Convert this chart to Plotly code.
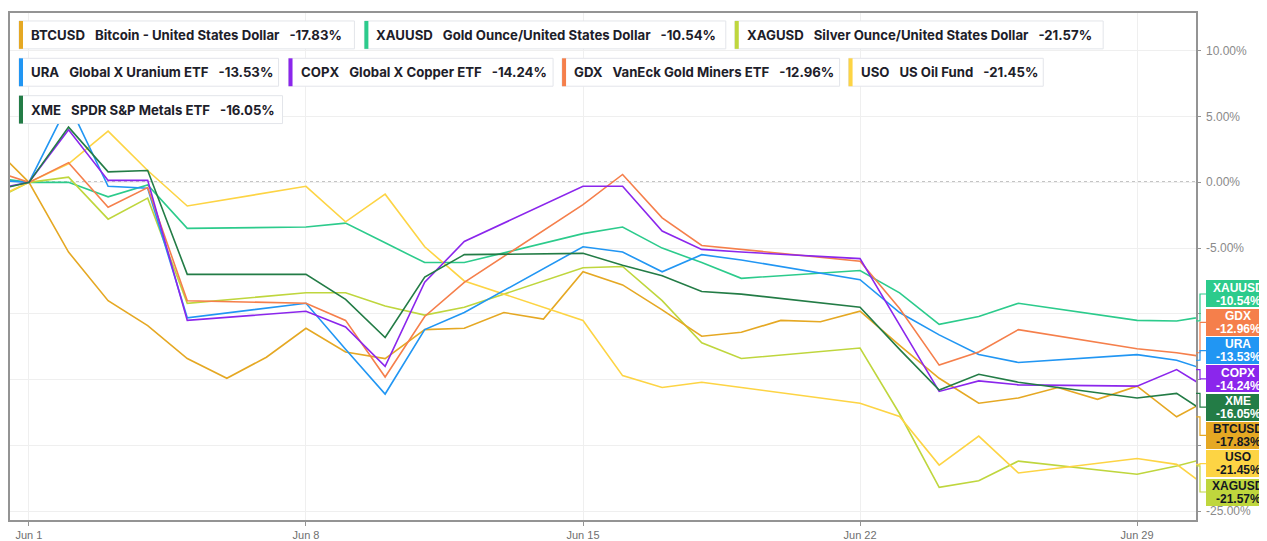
import plotly.graph_objects as go
import pandas as pd

# ---------------- data ----------------
dates = pd.date_range("2020-05-29", "2020-07-01", freq="D").strftime("%Y-%m-%d").tolist()
N = None

tickers = ["BTCUSD", "XAUUSD", "XAGUSD", "URA", "COPX", "GDX", "USO", "XME"]
names = ["Bitcoin - United States Dollar", "Gold Ounce/United States Dollar",
         "Silver Ounce/United States Dollar", "Global X Uranium ETF",
         "Global X Copper ETF", "VanEck Gold Miners ETF", "US Oil Fund",
         "SPDR S&P Metals ETF"]
colors = ["#E5A823", "#2CCB8C", "#BFD63D", "#2196F3", "#8B26EC", "#F57F4B", "#FDD444", "#237C46"]
label_text_colors = ["#131722", "#ffffff", "#131722", "#ffffff", "#ffffff", "#ffffff", "#131722", "#ffffff"]

#        May29 May30 May31 | Jun1 ... Jun30 | Jul1
btc = [N, N, 3.0,
       0.0, -5.3, -9.0, -10.9, -13.4, -14.9, -13.3, -11.1, -12.9, -13.4,
       -11.2, -11.1, -9.9, -10.4, -6.8, -7.8, -9.7, -11.7, -11.4, -10.5,
       -10.6, -9.8, -12.4, -14.9, -16.8, -16.4, -15.6, -16.5, -15.5, -17.83,
       -16.2]
xau = [1.2, N, N,
       0.0, 0.0, -1.1, -0.2, -3.5, N, N, -3.4, -3.1, -4.6,
       -6.1, -6.1, N, N, -3.9, -3.4, -5.0, -6.1, -7.3, N,
       N, -6.7, -8.4, -10.8, -10.2, -9.2, N, N, -10.5, -10.54,
       -10.06]
xag = [-4.5, N, N,
       0.0, 0.4, -2.8, -1.2, -9.2, N, N, -8.4, -8.4, -9.4,
       -10.1, -9.5, N, N, -6.5, -6.4, -9.0, -12.2, -13.4, N,
       N, -12.6, -17.6, -23.2, -22.7, -21.2, N, N, -22.2, -21.57,
       -20.8]
ura = [0.6, N, N,
       0.0, 6.0, -0.3, -0.45, -10.3, N, N, -9.2, -12.7, -16.1,
       -11.2, -9.9, N, N, -4.9, -5.3, -6.8, -5.5, -5.9, N,
       N, -7.4, -9.9, -11.6, -13.1, -13.7, N, N, -13.1, -13.53,
       -14.5]
copx = [-1.8, N, N,
        0.0, 4.0, 0.15, 0.15, -10.5, N, N, -9.8, -11.0, -14.0,
        -7.6, -4.5, N, N, -0.3, -0.3, -3.7, -5.1, -5.3, N,
        N, -5.8, -10.9, -15.9, -15.1, -15.4, N, N, -15.5, -14.24,
        -16.1]
gdx = [3.0, N, N,
       0.0, 1.5, -1.9, -0.4, -9.0, N, N, -9.2, -10.5, -14.8,
       -10.2, -7.6, N, N, -1.7, 0.6, -2.7, -4.8, -5.1, N,
       N, -6.0, -9.6, -13.9, -12.9, -11.2, N, N, -12.65, -12.96,
       -13.4]
uso = [-4.2, N, N,
       0.0, 1.4, 3.9, 0.9, -1.8, N, N, -0.3, -3.0, -0.9,
       -4.9, -7.5, N, N, -10.5, -14.7, -15.6, -15.2, -15.6, N,
       N, -16.8, -17.8, -21.5, -19.3, -22.1, N, N, -21.0, -21.45,
       -23.7]
xme = [-2.1, N, N,
       0.0, 4.2, 0.8, 0.9, -7.0, N, N, -7.0, -8.9, -11.8,
       -7.2, -5.5, N, N, -5.4, -6.3, -7.1, -8.3, -8.5, N,
       N, -9.5, -12.7, -15.8, -14.6, -15.2, N, N, -16.4, -16.05,
       -18.0]
series = [btc, xau, xag, ura, copx, gdx, uso, xme]

x_tick_dates = ["2020-06-01", "2020-06-08", "2020-06-15", "2020-06-22", "2020-06-29"]
x_tick_text = ["Jun 1", "Jun 8", "Jun 15", "Jun 22", "Jun 29"]
y_ticks = [-25, -20, -15, -10, -5, 0, 5, 10]
last_date = "2020-06-30"

# ---------------- layout geometry (page pixels; figure sits at an 8px page offset) ----------------
OFF = 8
W, H = 1259, 533
ML, MT = 0, 5
PW, PH = 1188, 509
MR, MB = W - ML - PW, H - MT - PH
Y_RANGE = [-25.68, 12.88]
X_RANGE = ["2020-05-31 12:30", "2020-06-30 11:45"]


def px(x):
    return (x - OFF - ML) / PW


def py(y):
    return (OFF + MT + PH - y) / PH


def vy(v):
    return (v - Y_RANGE[0]) / (Y_RANGE[1] - Y_RANGE[0])


fig = go.Figure()
draw_order = [1, 2, 0, 6, 3, 5, 4, 7]
for i in draw_order:
    fig.add_trace(go.Scatter(x=dates, y=series[i], mode="lines", connectgaps=True,
                             line=dict(color=colors[i], width=1.6),
                             name=tickers[i], showlegend=False, hoverinfo="skip"))

shapes = []
annotations = []

# zero line
shapes.append(dict(type="line", xref="paper", yref="y", x0=0, x1=1, y0=0, y1=0,
                   line=dict(color="#8a8a8a", width=1.5, dash="dot"), layer="below"))

# ---------------- y tick labels (right side) ----------------
for v in y_ticks:
    annotations.append(dict(xref="paper", yref="y", x=px(1204), y=v, xanchor="left",
                            yanchor="middle", text=f"{v:.2f}%", showarrow=False,
                            font=dict(family="Liberation Sans", size=12, color="#8a8a8a")))

# ---------------- top legend boxes ----------------
legend_rows = [[0, 1, 2], [3, 4, 5, 6], [7]]
legend_lefts = [[17, 363, 734], [17, 287, 561, 848], [17]]
legend_widths = [[336, 362, 369], [260, 265, 278, 195], [264]]
row_tops = [21, 58.5, 96]
BOX_H = 28
last_idx = dates.index(last_date)
for r, row in enumerate(legend_rows):
    top = row_tops[r]
    for k, i in enumerate(row):
        left = legend_lefts[r][k]
        w = legend_widths[r][k]
        shapes.append(dict(type="rect", xref="paper", yref="paper",
                           x0=px(left), x1=px(left + w), y0=py(top + BOX_H), y1=py(top),
                           fillcolor="white", line=dict(color="#e3e5ea", width=1), layer="above"))
        shapes.append(dict(type="rect", xref="paper", yref="paper",
                           x0=px(left), x1=px(left + 4), y0=py(top + BOX_H), y1=py(top),
                           fillcolor=colors[i], line=dict(width=0), layer="above"))
        val = series[i][last_idx]
        txt = (f"<b>{tickers[i]}</b>&nbsp;&nbsp;&nbsp;<b>{names[i]}</b>"
               f"&nbsp;&nbsp;&nbsp;<b>{val:.2f}%</b>")
        annotations.append(dict(xref="paper", yref="paper", x=px(left + 10), y=py(top + BOX_H / 2),
                                xanchor="left", yanchor="middle", text=txt, showarrow=False,
                                font=dict(family="Inter", size=13.2, color="#1d2029", weight=600)))

# ---------------- right value labels ----------------
finals = [s[last_idx] for s in series]
order = sorted(range(len(series)), key=lambda i: -finals[i])
pitch_px = 28.4
px_per_pct = PH / (Y_RANGE[1] - Y_RANGE[0])
mean_v = sum(finals) / len(finals)
LBL_L, LBL_W, ELBOW = 1206, 62, 1200
for rank, i in enumerate(order):
    center_v = mean_v + (len(order) / 2 - 0.5 - rank) * pitch_px / px_per_pct
    cy = vy(center_v)
    v_y = vy(finals[i])
    shapes.append(dict(type="path", xref="paper", yref="paper",
                       path=(f"M {px(1196)},{v_y} L {px(ELBOW)},{v_y} "
                             f"L {px(ELBOW)},{cy} L {px(LBL_L)},{cy}"),
                       line=dict(color=colors[i], width=1.2), layer="above"))
    # coloured box (an annotation so it sits above the y tick labels)
    annotations.append(dict(xref="paper", yref="paper", x=px(LBL_L), y=cy, xanchor="left",
                            yanchor="middle", text="&nbsp;", showarrow=False,
                            width=LBL_W, height=27, borderpad=0, borderwidth=0,
                            bgcolor=colors[i], font=dict(size=10)))
    for line_txt, dy in ((tickers[i], 6.3), (f"{finals[i]:.2f}%", -6.7)):
        annotations.append(dict(xref="paper", yref="paper", x=px(1238.5),
                                y=cy + dy / PH, xanchor="center", yanchor="middle",
                                text=f"<b>{line_txt}</b>", showarrow=False,
                                font=dict(family="Liberation Sans", size=12,
                                          color=label_text_colors[i])))

# cropped watermark text at the very top
annotations.append(dict(xref="paper", yref="paper", x=px(171), y=py(11), xanchor="center",
                        yanchor="bottom", text="<b>ASESORIA FINANCIERA</b>", showarrow=False,
                        font=dict(family="Liberation Sans", size=8, color="#1f2d3a")))

fig.update_layout(
    width=W, height=H,
    margin=dict(l=ML, r=MR, t=MT, b=MB, pad=0),
    paper_bgcolor="white", plot_bgcolor="white",
    shapes=shapes, annotations=annotations,
    showlegend=False,
    xaxis=dict(type="date", range=X_RANGE, tickvals=x_tick_dates, ticktext=x_tick_text,
               showgrid=True, gridcolor="#efefef", gridwidth=1,
               showline=True, mirror=True, linecolor="#949494", linewidth=1.5,
               ticks="outside", ticklen=4, tickcolor="#949494",
               tickfont=dict(family="Liberation Sans", size=11, color="#6f6f6f"),
               zeroline=False, fixedrange=True),
    yaxis=dict(range=Y_RANGE, side="right", tickvals=y_ticks, showticklabels=False,
               showgrid=True, gridcolor="#efefef", gridwidth=1,
               showline=True, mirror=True, linecolor="#949494", linewidth=1.5,
               ticks="outside", ticklen=3, tickcolor="#949494",
               zeroline=False, fixedrange=True),
)

fig.write_html("out.html", config={"displayModeBar": False})
